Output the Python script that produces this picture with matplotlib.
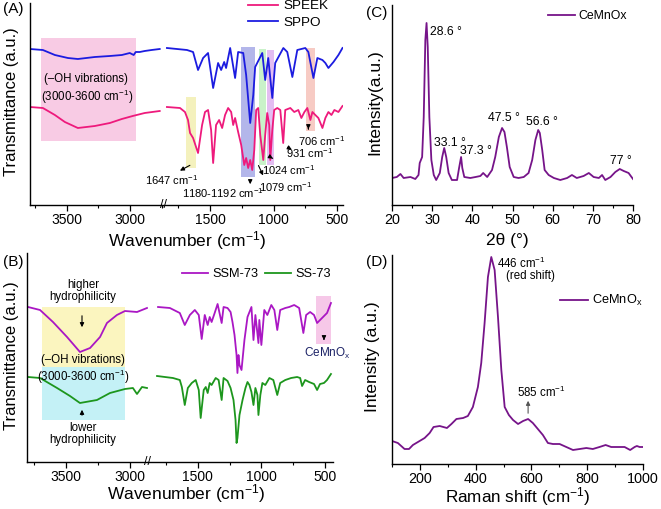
import matplotlib

matplotlib.use("Agg")
import matplotlib.pyplot as plt
from matplotlib.patches import Rectangle
from matplotlib.ticker import MultipleLocator

plt.rcParams["font.family"] = ["Liberation Sans", "DejaVu Sans"]
plt.rcParams["mathtext.fontset"] = "custom"
plt.rcParams["mathtext.rm"] = "Liberation Sans"
plt.rcParams["mathtext.it"] = "Liberation Sans:italic"
plt.rcParams["mathtext.default"] = "regular"

CM = r"cm$^{-1}$"

# ---- panel A: FTIR of SPEEK / SPPO (wavenumber, transmittance a.u.) ----
a_sppo_hi_x = [3792, 3690, 3595, 3492, 3413, 3279, 3160, 3065, 3002, 2971, 2955, 2923, 2884, 2829, 2765]
a_sppo_hi_y = [156, 155, 150, 147, 146, 148, 149, 150, 152, 150, 153, 153, 154, 155, 156]
a_speek_hi_x = [3792, 3690, 3595, 3516, 3413, 3279, 3160, 3065, 2979, 2884, 2765]
a_speek_hi_y = [98, 97, 90, 83, 77, 79, 82, 86, 89, 92, 94]

a_sppo_lo_x = [1840, 1682, 1634, 1595, 1555, 1516, 1476, 1437, 1413, 1389, 1374, 1342, 1303, 1279,
               1239, 1216, 1184, 1160, 1145, 1089, 1066, 1042, 1010, 987, 923, 892, 852, 813, 750,
               726, 686, 655, 615, 592, 568, 528, 489, 457]
a_sppo_lo_y = [157, 155, 153, 135, 147, 152, 117, 142, 135, 143, 137, 157, 127, 153,
               152, 130, 82, 110, 138, 152, 125, 147, 107, 142, 157, 153, 128, 155, 157,
               153, 127, 147, 145, 142, 137, 143, 150, 157]
a_speek_lo_x = [1840, 1737, 1698, 1674, 1658, 1634, 1595, 1563, 1540, 1516, 1492, 1476, 1453, 1429,
                1405, 1382, 1358, 1334, 1318, 1303, 1279, 1255, 1231, 1216, 1200, 1184, 1168, 1152,
                1137, 1121, 1105, 1081, 1066, 1050, 1034, 1026, 1010, 995, 971, 947, 924, 908, 868,
                837, 805, 781, 757, 734, 710, 694, 671, 647, 615, 592, 568, 544, 521, 489, 457]
a_speek_lo_y = [98, 97, 93, 85, 72, 67, 52, 80, 93, 95, 75, 42, 80, 85,
                77, 90, 97, 93, 80, 87, 73, 60, 40, 47, 37, 45, 35, 55,
                95, 97, 70, 45, 70, 92, 80, 45, 75, 95, 97, 95, 62, 95, 97,
                93, 95, 87, 93, 97, 85, 93, 90, 87, 77, 87, 93, 90, 95, 93, 99]

# highlighted bands: (wn_from, wn_to, y_from, y_to, colour)
a_bands_hi = [(3705, 2953, 64, 167, "#f8cbe4")]
a_bands_lo = [(1690, 1611, 37, 108, "#f4f1bd"),
              (1255, 1145, 28, 158, "#b3b6ea"),
              (1113, 1058, 40, 156, "#c9f2c9"),
              (1050, 994, 40, 155, "#e3bdf2"),
              (742, 671, 74, 157, "#f7cbc4")]

# ---- panel B: FTIR of SSM-73 / SS-73 ----
b_ssm_hi_x = [3797, 3703, 3602, 3492, 3391, 3312, 3234, 3180, 3102, 3039, 2945, 2867]
b_ssm_hi_y = [155, 152, 140, 125, 110, 114, 125, 139, 147, 151, 150, 154]
b_ss_hi_x = [3797, 3703, 3570, 3469, 3391, 3258, 3156, 3039, 2977, 2945, 2906, 2867]
b_ss_hi_y = [85, 84, 74, 66, 59, 62, 69, 73, 74, 68, 75, 74]

b_ssm_lo_x = [1812, 1719, 1641, 1602, 1562, 1523, 1492, 1469, 1445, 1422, 1406, 1391, 1367, 1344,
              1312, 1297, 1266, 1242, 1227, 1211, 1195, 1188, 1180, 1172, 1156, 1133, 1109, 1078,
              1062, 1047, 1023, 1016, 1000, 977, 953, 922, 898, 875, 852, 812, 781, 742, 703,
              670, 648, 617, 586, 562, 523, 484, 453]
b_ssm_lo_y = [155, 154, 149, 137, 147, 152, 147, 123, 147, 137, 145, 140, 149, 158,
              139, 155, 154, 150, 140, 127, 107, 89, 107, 97, 92, 122, 145, 155,
              122, 147, 119, 142, 117, 152, 147, 157, 152, 132, 152, 154, 155, 157, 154,
              129, 147, 150, 147, 139, 144, 149, 159]
b_ss_lo_x = [1820, 1758, 1695, 1641, 1625, 1602, 1578, 1547, 1516, 1492, 1477, 1453, 1437, 1422,
             1406, 1391, 1359, 1336, 1312, 1297, 1266, 1242, 1219, 1203, 1195, 1188, 1172, 1148,
             1125, 1109, 1094, 1078, 1062, 1047, 1031, 1023, 1008, 992, 969, 937, 906, 875, 852,
             812, 766, 719, 695, 680, 656, 625, 586, 562, 539, 508, 484, 453]
b_ss_lo_y = [86, 85, 84, 82, 75, 57, 74, 79, 82, 72, 44, 72, 75, 69,
             79, 77, 84, 82, 62, 84, 81, 74, 62, 42, 19, 24, 47, 62,
             74, 80, 77, 70, 57, 74, 67, 47, 67, 79, 77, 84, 82, 67, 79,
             82, 84, 85, 84, 76, 82, 80, 78, 72, 78, 79, 82, 88]

b_bands_hi = [(3687, 3039, 95, 155, "#fbf5bf"),
              (3687, 3039, 42, 95, "#c4f1f6")]
b_bands_lo = [(570, 453, 118, 166, "#f6c8e8")]

# ---- panel C: XRD of CeMnOx ----
c_theta = [20.0, 21.2, 22.1, 22.9, 24.6, 25.8, 26.6, 26.9, 27.5, 27.9, 28.3, 28.6, 28.9, 29.3, 29.8,
           30.4, 31.0, 31.9, 32.5, 33.0, 33.5, 34.1, 34.9, 36.2, 36.7, 37.2, 37.5, 38.0, 39.5,
           40.8, 42.0, 42.7, 43.7, 44.9, 45.7, 46.6, 47.4, 48.0, 48.6, 49.3, 50.3, 51.5, 52.8,
           54.0, 54.9, 55.7, 56.4, 56.8, 57.4, 58.0, 59.0, 60.3, 61.9, 63.6, 64.8, 66.0, 67.7,
           69.0, 70.2, 71.5, 72.3, 73.1, 74.4, 75.6, 76.7, 77.7, 78.9, 80.0]
c_int = [27, 28, 31, 27, 28, 26, 30, 42, 48, 88, 165, 182, 158, 88, 45,
         30, 25, 32, 48, 57, 48, 32, 25, 25, 37, 48, 37, 28, 27,
         28, 29, 32, 28, 35, 48, 68, 77, 73, 58, 38, 28, 27, 28,
         32, 45, 65, 75, 72, 55, 35, 30, 27, 25, 27, 30, 27, 29,
         32, 28, 27, 30, 25, 28, 33, 36, 34, 32, 26]

# ---- panel D: Raman of CeMnOx ----
d_shift = [100, 121, 145, 161, 175, 193, 217, 235, 249, 271, 297, 313, 331, 355, 372, 390, 408,
           420, 432, 444, 456, 468, 480, 492, 504, 519, 534, 552, 570, 588, 605, 623, 641, 659,
           677, 701, 725, 749, 773, 797, 820, 844, 866, 886, 910, 934, 954, 970, 978, 988, 1000]
d_int = [23, 21, 15, 15, 19, 22, 26, 31, 37, 38, 36, 40, 45, 46, 48, 57, 77,
         101, 141, 187, 207, 194, 147, 94, 57, 49, 44, 40, 43, 45, 41, 35, 29, 21,
         20, 20, 17, 14, 15, 16, 15, 17, 19, 17, 17, 17, 14, 17, 18, 17, 17]

COL_SPEEK = "#ee1a7c"
COL_SPPO = "#1c1ce0"
COL_SSM = "#aa17c4"
COL_SS = "#1d961d"
COL_CE = "#761489"
LW = 1.3

fig = plt.figure(figsize=(6.61, 5.09), dpi=100)
W, H = 661.0, 509.0


def px_axes(left, top, right, bottom):
    return fig.add_axes([left / W, 1 - bottom / H, (right - left) / W, (bottom - top) / H])


def style_ax(ax, show_left=True):
    for s in ("top", "right"):
        ax.spines[s].set_visible(False)
    ax.spines["left"].set_visible(show_left)
    ax.set_yticks([])
    ax.tick_params(axis="x", direction="out", length=4, width=0.9, labelsize=10, pad=1.5)
    ax.tick_params(axis="x", which="minor", direction="out", length=2.5, width=0.8)
    for s in ax.spines.values():
        s.set_linewidth(1.0)


def add_bands(ax, bands):
    for x0, x1, y0, y1, c in bands:
        ax.add_patch(Rectangle((min(x0, x1), y0), abs(x1 - x0), y1 - y0, facecolor=c,
                               edgecolor="none", zorder=0))


def broken_pair(left, mid, right, top, bottom, xl_hi, xl_lo, ylim):
    ax1 = px_axes(left, top, mid, bottom)
    ax2 = px_axes(mid, top, right, bottom)
    style_ax(ax1, True)
    style_ax(ax2, False)
    ax1.set_xlim(*xl_hi)
    ax2.set_xlim(*xl_lo)
    for ax in (ax1, ax2):
        ax.set_ylim(*ylim)
        ax.xaxis.set_major_locator(MultipleLocator(500))
        ax.xaxis.set_minor_locator(MultipleLocator(250))
    ax2.tick_params(axis="y", left=False)
    # break mark
    fig.text(mid / W, 1 - bottom / H, "//", fontsize=9, ha="center", va="center")
    return ax1, ax2


# ======================= (A) =======================
axA1, axA2 = broken_pair(30, 163, 343, 3, 205, (3792, 2739), (1871, 453), (0, 202))
axA2.set_xticks([1500, 1000, 500])
add_bands(axA1, a_bands_hi)
add_bands(axA2, a_bands_lo)
axA1.plot(a_sppo_hi_x, a_sppo_hi_y, color=COL_SPPO, lw=LW)
axA1.plot(a_speek_hi_x, a_speek_hi_y, color=COL_SPEEK, lw=LW)
axA2.plot(a_speek_lo_x, a_speek_lo_y, color=COL_SPEEK, lw=LW, label="SPEEK")
axA2.plot(a_sppo_lo_x, a_sppo_lo_y, color=COL_SPPO, lw=LW, label="SPPO")
axA2.legend(loc="upper left", bbox_to_anchor=(248 / W, 1.0), bbox_transform=fig.transFigure,
            frameon=False, fontsize=9.7, borderpad=0, borderaxespad=0, handlelength=2.2,
            handletextpad=0.4, labelspacing=0.3)

axA1.text(3350, 126, "(–OH vibrations)", fontsize=8.3, ha="center", va="center")
axA1.text(3338, 108, "(3000-3600 " + CM + ")", fontsize=8.3, ha="center", va="center")

arr = dict(arrowstyle="-|>", color="black", lw=0.8, mutation_scale=6)
axA2.annotate("", xy=(1757, 33), xytext=(1640, 41), arrowprops=arr)
axA2.text(1800, 25, "1647 " + CM, fontsize=8, ha="center", va="center", clip_on=False)
axA2.annotate("", xy=(1184, 18), xytext=(1184, 28), arrowprops=arr)
axA2.text(1400, 12, "1180-1192 " + CM, fontsize=8, ha="center", va="center")
axA2.annotate("", xy=(1073, 27), xytext=(1128, 42), arrowprops=arr)
axA2.text(907, 18, "1079 " + CM, fontsize=8, ha="center", va="center")
axA2.annotate("", xy=(986, 45), xytext=(1026, 48), arrowprops=arr)
axA2.text(884, 35, "1024 " + CM, fontsize=8, ha="center", va="center")
axA2.annotate("", xy=(837, 54), xytext=(908, 59), arrowprops=arr)
axA2.text(719, 52, "931 " + CM, fontsize=8, ha="center", va="center")
axA2.annotate("", xy=(726, 73), xytext=(726, 79), arrowprops=arr)
axA2.text(624, 64, "706 " + CM, fontsize=8, ha="center", va="center", clip_on=False)

fig.text(3 / W, 1 - 9 / H, "(A)", fontsize=11, ha="left", va="center")
fig.text(12 / W, 1 - 102 / H, "Transmittance (a.u.)", fontsize=12, rotation=90,
         ha="center", va="center")
fig.text(187 / W, 1 - 241 / H, "Wavenumber (" + CM + ")", fontsize=12.5, ha="center", va="center")

# ======================= (B) =======================
axB1, axB2 = broken_pair(27, 148, 333, 253, 462, (3805, 2859), (1891, 437), (0, 209))
axB2.set_xticks([1500, 1000, 500])
add_bands(axB1, b_bands_hi)
add_bands(axB2, b_bands_lo)
axB1.plot(b_ssm_hi_x, b_ssm_hi_y, color=COL_SSM, lw=LW)
axB1.plot(b_ss_hi_x, b_ss_hi_y, color=COL_SS, lw=LW)
axB2.plot(b_ssm_lo_x, b_ssm_lo_y, color=COL_SSM, lw=LW, label="SSM-73")
axB2.plot(b_ss_lo_x, b_ss_lo_y, color=COL_SS, lw=LW, label="SS-73")
axB2.legend(loc="upper left", bbox_to_anchor=(182 / W, 1 - 268 / H), bbox_transform=fig.transFigure,
            frameon=False, fontsize=9.2, ncol=2, borderpad=0, borderaxespad=0, handlelength=2.0,
            handletextpad=0.4, columnspacing=0.5)

axB1.text(3367, 171, "higher\nhydrophilicity", fontsize=8.3, ha="center", va="center",
          linespacing=1.1)
axB1.annotate("", xy=(3375, 132), xytext=(3375, 149), arrowprops=arr)
axB1.text(3367, 102, "(–OH vibrations)", fontsize=8.3, ha="center", va="center")
axB1.text(3367, 85, "(3000-3600 " + CM + ")", fontsize=8.3, ha="center", va="center")
axB1.annotate("", xy=(3375, 55), xytext=(3375, 44), arrowprops=arr)
axB1.text(3367, 28, "lower\nhydrophilicity", fontsize=8.3, ha="center", va="center",
          linespacing=1.1)
axB2.annotate("", xy=(508, 119), xytext=(508, 126), arrowprops=arr)
axB2.text(478, 109, r"CeMnO$_\mathregular{x}$", fontsize=8.5, ha="center", va="center",
          color="#1c2266", clip_on=False)

fig.text(3 / W, 1 - 262 / H, "(B)", fontsize=11, ha="left", va="center")
fig.text(12 / W, 1 - 356 / H, "Transmittance (a.u.)", fontsize=12, rotation=90,
         ha="center", va="center")
fig.text(186 / W, 1 - 494 / H, "Wavenumber (" + CM + ")", fontsize=12.5, ha="center", va="center")

# ======================= (C) =======================
axC = px_axes(392, 5, 633, 205)
style_ax(axC)
axC.tick_params(axis="x", labelsize=10.4)
axC.set_xlim(20, 80)
axC.set_ylim(0, 200)
axC.xaxis.set_major_locator(MultipleLocator(10))
axC.xaxis.set_minor_locator(MultipleLocator(5))
axC.plot(c_theta, c_int, color=COL_CE, lw=LW, label="CeMnOx")
axC.legend(loc="upper left", bbox_to_anchor=(548 / W, 1 - 10 / H), bbox_transform=fig.transFigure,
           frameon=False, fontsize=8.8, borderpad=0, borderaxespad=0, handlelength=2.2,
           handletextpad=0.3)
axC.text(29.5, 173, "28.6 °", fontsize=8.8, ha="left", va="center")
axC.text(34.3, 62, "33.1 °", fontsize=8.8, ha="center", va="center")
axC.text(40.9, 54, "37.3 °", fontsize=8.8, ha="center", va="center")
axC.text(47.9, 87, "47.5 °", fontsize=8.8, ha="center", va="center")
axC.text(57.3, 83, "56.6 °", fontsize=8.8, ha="center", va="center")
axC.text(77.0, 44, "77 °", fontsize=8.8, ha="center", va="center")
fig.text(366 / W, 1 - 13 / H, "(C)", fontsize=11, ha="left", va="center")
fig.text(375 / W, 1 - 102 / H, "Intensity(a.u.)", fontsize=12.5, rotation=90,
         ha="center", va="center")
fig.text(507 / W, 1 - 240 / H, "2θ (°)", fontsize=12.5, ha="center", va="center")

# ======================= (D) =======================
axD = px_axes(392, 255, 643, 464)
style_ax(axD)
axD.tick_params(axis="x", labelsize=10.4)
axD.set_xlim(100, 1000)
axD.set_ylim(0, 209)
axD.xaxis.set_major_locator(MultipleLocator(200))
axD.xaxis.set_minor_locator(MultipleLocator(100))
axD.plot(d_shift, d_int, color=COL_CE, lw=LW, label=r"CeMnO$_\mathregular{x}$")
axD.legend(loc="upper left", bbox_to_anchor=(560 / W, 1 - 293 / H), bbox_transform=fig.transFigure,
           frameon=False, fontsize=9.2, borderpad=0, borderaxespad=0, handlelength=2.2,
           handletextpad=0.3)
axD.text(476, 201, "446 " + CM, fontsize=8.3, ha="left", va="center")
axD.text(509, 188, "(red shift)", fontsize=8.3, ha="left", va="center")
axD.annotate("", xy=(588, 66), xytext=(588, 48),
             arrowprops=dict(arrowstyle="-|>", color="#555555", lw=0.8, mutation_scale=6))
axD.text(634, 72, "585 " + CM, fontsize=8.3, ha="center", va="center")
fig.text(366 / W, 1 - 262 / H, "(D)", fontsize=11, ha="left", va="center")
fig.text(373 / W, 1 - 357 / H, "Intensity (a.u.)", fontsize=12.5, rotation=90,
         ha="center", va="center")
fig.text(518 / W, 1 - 497 / H, "Raman shift (" + CM + ")", fontsize=12.3, ha="center", va="center")

fig.savefig("out.png", dpi=100)
